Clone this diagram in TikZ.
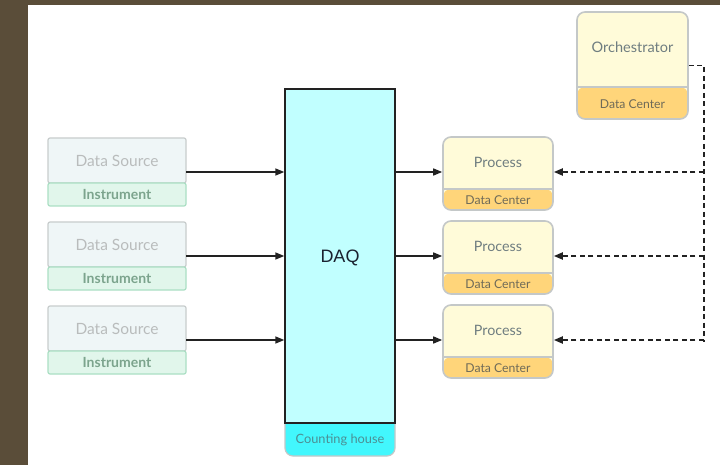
\documentclass[tikz,border=0pt]{standalone}
\usepackage{fontspec}
\setmainfont{Lato}
\newfontfamily\daqfont{Liberation Sans}
\usetikzlibrary{arrows.meta}

\definecolor{framebrown}{HTML}{5A4D39}
\definecolor{srcfill}{HTML}{EFF6F7}
\definecolor{srcline}{HTML}{C8CDCD}
\definecolor{srctext}{HTML}{B9BCBC}
\definecolor{insfill}{HTML}{E1F6EB}
\definecolor{insline}{HTML}{ABDFC4}
\definecolor{instext}{HTML}{7CA48D}
\definecolor{daqfill}{HTML}{C1FFFF}
\definecolor{daqtext}{HTML}{1A2230}
\definecolor{housefill}{HTML}{42F7FD}
\definecolor{housetext}{HTML}{4C8F94}
\definecolor{procfill}{HTML}{FFFBD9}
\definecolor{dcfill}{HTML}{FFD57A}
\definecolor{boxline}{HTML}{C4C8C8}
\definecolor{proctext}{HTML}{6F7D80}
\definecolor{dctext}{HTML}{6E6A58}
\definecolor{wire}{HTML}{222222}

\tikzset{
  srcbox/.style={rectangle, rounded corners=2pt, draw=srcline, fill=srcfill,
    line width=1.2pt, minimum width=138pt, minimum height=45pt, inner sep=0pt,
    text=srctext, font=\fontsize{15.5}{17}\selectfont},
  insbox/.style={rectangle, rounded corners=2pt, draw=insline, fill=insfill,
    line width=1.2pt, minimum width=138pt, minimum height=23pt, inner sep=0pt,
    text=instext, font=\fontsize{14}{16}\selectfont\bfseries},
  frame/.style={rectangle, draw=none, inner sep=0pt, minimum width=#1},
  dcbox/.style={rectangle, rounded corners=8pt, draw=boxline, fill=procfill,
    line width=1.6pt, inner sep=0pt,
    path picture={
      \fill[dcfill] ([yshift=#1]path picture bounding box.south west)
        rectangle (path picture bounding box.south east);
      \draw[boxline, line width=1.6pt]
        ([yshift=#1]path picture bounding box.south west) --
        ([yshift=#1]path picture bounding box.south east);}},
  proclabel/.style={text=proctext, font=\fontsize{14.3}{16}\selectfont, inner sep=0pt},
  dclabel/.style={text=dctext, font=\fontsize{12.2}{14}\selectfont, inner sep=0pt},
  flow/.style={draw=wire, line width=1.5pt, -{Triangle[length=9pt,width=7pt]}},
  ctrl/.style={draw=wire, line width=1.9pt, dash pattern=on 5pt off 3.5pt},
  ctrltip/.style={ctrl, -{Triangle[length=9pt,width=7pt]}},
}

\begin{document}
\begin{tikzpicture}[x=1pt,y=-1pt]
\useasboundingbox (0,0) rectangle (720,465);
% page frame
\fill[framebrown] (0,0) rectangle (720,465);
\fill[white] (28,5) rectangle (720,465);

% data sources with their instruments
\foreach \i/\t in {1/138,2/222,3/306}{
  \node[frame=138pt, minimum height=68pt] (src\i) at (117,\t+34) {};
  \node[srcbox] (ds\i) at (117,\t+22.5) {Data Source};
  \node[insbox] (ins\i) at (117,\t+56.5) {Instrument};
}

% DAQ in the counting house
\node[rectangle, rounded corners=8pt, draw=boxline, fill=housefill, line width=1.2pt,
  minimum width=110pt, minimum height=46pt, inner sep=0pt] (house) at (340,433) {};
\node[rectangle, draw=wire, fill=daqfill, line width=1.4pt,
  minimum width=110pt, minimum height=334pt, inner sep=0pt] (daq) at (340,256) {};
\node[text=daqtext, font=\daqfont\fontsize{18}{20}\selectfont, inner sep=0pt]
  (daqlabel) at (340,258) {DAQ};
\node[text=housetext, font=\fontsize{12.8}{14}\selectfont, inner sep=0pt]
  (houselabel) at (340,439.5) {Counting house};

% processes in the data center
\foreach \i/\t in {1/137,2/221,3/305}{
  \node[dcbox=21pt, minimum width=110pt, minimum height=73pt] (p\i) at (498,\t+36.5) {};
  \node[proclabel] (pl\i) at ([yshift=-26pt]p\i.north) {Process};
  \node[dclabel] (pd\i) at ([yshift=10.5pt]p\i.south) {Data Center};
}

% orchestrator
\node[dcbox=32pt, minimum width=111pt, minimum height=107pt] (orch) at (632.5,65.5) {};
\node[proclabel, font=\fontsize{14.5}{16}\selectfont] (orchlabel) at ([yshift=-36pt]orch.north) {Orchestrator};
\node[dclabel] (orchdc) at ([yshift=16pt]orch.south) {Data Center};

% data flow
\foreach \i in {1,2,3}{
  \draw[flow] (src\i.east) -- (src\i.east -| daq.west);
  \draw[flow] (src\i.east -| daq.east) -- (src\i.east -| p\i.west);
}

% control lines
\coordinate (bend) at ([xshift=15pt]orch.east);
\draw[ctrl] (orch.east) -- (bend) -- (bend |- p3.east);
\foreach \i in {1,2,3}{
  \draw[ctrltip] (bend |- src\i.east) -- (src\i.east -| p\i.east);
}
\end{tikzpicture}
\end{document}
